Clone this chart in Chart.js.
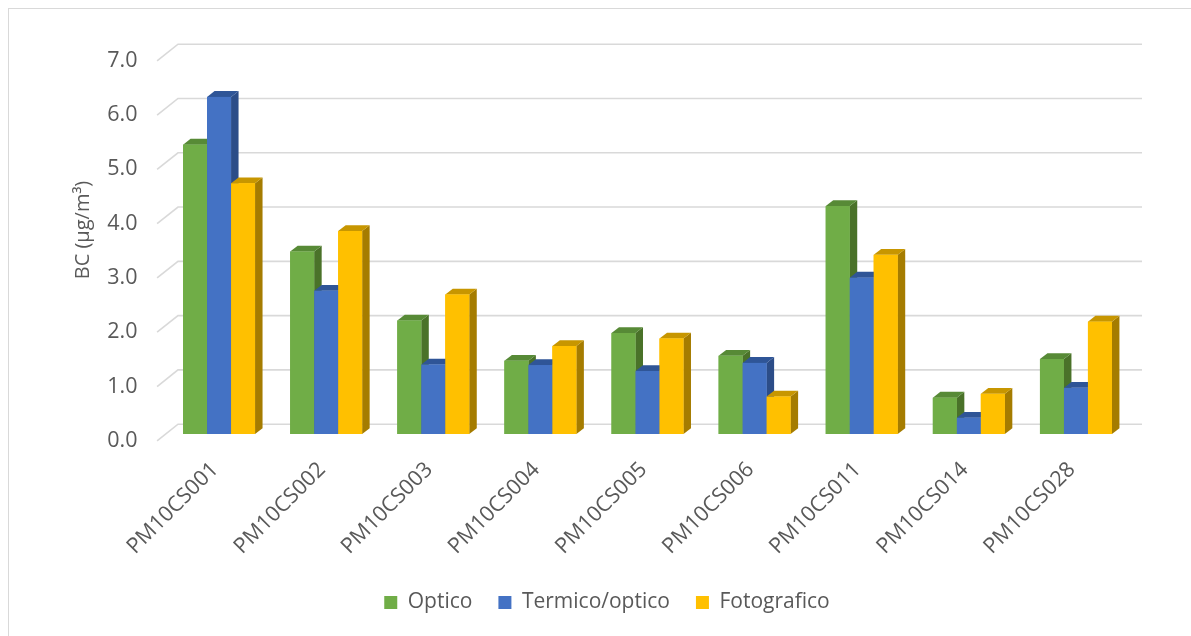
<!DOCTYPE html>
<html>
<head>
<meta charset="utf-8">
<script src="https://cdn.jsdelivr.net/npm/chart.js@4"></script>
<style>
  html, body { margin: 0; padding: 0; background: #fff; }
  #wrap { width: 1191px; height: 636px; }
</style>
</head>
<body>
<div id="wrap"><canvas id="myChart"></canvas></div>
<script>
let labels = ["PM10CS001", "PM10CS002", "PM10CS003", "PM10CS004", "PM10CS005", "PM10CS006", "PM10CS011", "PM10CS014", "PM10CS028"]
let seriesNames = ["Optico", "Termico/optico", "Fotografico"]
let optico = [5.33, 3.36, 2.09, 1.35, 1.86, 1.44, 4.20, 0.67, 1.38]
let termico = [6.21, 2.64, 1.28, 1.27, 1.16, 1.31, 2.88, 0.30, 0.85]
let fotografico = [4.62, 3.74, 2.57, 1.62, 1.76, 0.69, 3.30, 0.74, 2.07]
let yTicks = [0, 1, 2, 3, 4, 5, 6, 7]

let colorFront = ["#70ad47", "#4472c4", "#ffc000"]
let colorTop = ["#578a36", "#2f5597", "#c79600"]
let colorSide = ["#4a7229", "#2c4d88", "#a57c00"]

// 3d look: depth of each bar, and offsets of back wall / front edge
let depthX = 7.5, depthY = 5.8
let backX = 12.5, backY = -9.8
let frontX = -8.4, frontY = 6.8
let font = "'Open Sans', sans-serif"

let frame = {
  id: "frame",
  beforeDraw(chart) {
    let c = chart.ctx
    c.save()
    c.fillStyle = "#fff"
    c.fillRect(0, 0, chart.width, chart.height)
    c.strokeStyle = "#d9d9d9"
    c.lineWidth = 1
    c.strokeRect(8.5, 8.5, 1400, 800)
    // axis title
    c.fillStyle = "#595959"
    c.font = "20px " + font
    c.textAlign = "center"
    c.textBaseline = "middle"
    c.translate(83, 230)
    c.rotate(-Math.PI / 2)
    c.fillText("BC (\u00b5g/m\u00b3)", 0, 0)
    c.restore()
  }
}

let wall = {
  id: "wall",
  beforeDatasetsDraw(chart) {
    let c = chart.ctx, y = chart.scales.y, a = chart.chartArea
    c.save()
    c.strokeStyle = "#d9d9d9"
    c.lineWidth = 1.6
    yTicks.forEach(v => {
      let py = y.getPixelForValue(v)
      c.beginPath()
      c.moveTo(a.left + frontX, py + frontY)
      c.lineTo(a.left + backX, py + backY)
      c.lineTo(a.right + backX, py + backY)
      c.stroke()
    })
    c.restore()
  }
}

let bars3d = {
  id: "bars3d",
  afterDatasetsDraw(chart) {
    let c = chart.ctx
    c.save()
    chart.data.datasets.forEach((ds, i) => {
      chart.getDatasetMeta(i).data.forEach(el => {
        let p = el.getProps(["x", "y", "base", "width"], true)
        let x0 = p.x - p.width / 2, x1 = p.x + p.width / 2
        // side
        c.fillStyle = colorSide[i]
        c.beginPath()
        c.moveTo(x1, p.y)
        c.lineTo(x1 + depthX, p.y - depthY)
        c.lineTo(x1 + depthX, p.base - depthY)
        c.lineTo(x1, p.base)
        c.closePath()
        c.fill()
        // top
        c.fillStyle = colorTop[i]
        c.beginPath()
        c.moveTo(x0, p.y)
        c.lineTo(x0 + depthX, p.y - depthY)
        c.lineTo(x1 + depthX, p.y - depthY)
        c.lineTo(x1, p.y)
        c.closePath()
        c.fill()
        // front
        c.fillStyle = colorFront[i]
        c.fillRect(x0, p.y, p.width, p.base - p.y)
      })
    })
    c.restore()
  }
}

let ctx = document.getElementById("myChart").getContext("2d")

let myChart = new Chart(ctx, {
  type: "bar",
  data: {
    labels: labels,
    datasets: [
      { label: seriesNames[0], data: optico, backgroundColor: colorFront[0] },
      { label: seriesNames[1], data: termico, backgroundColor: colorFront[1] },
      { label: seriesNames[2], data: fotografico, backgroundColor: colorFront[2] }
    ]
  },
  options: {
    responsive: true,
    maintainAspectRatio: false,
    animation: false,
    datasets: { bar: { categoryPercentage: 0.672, barPercentage: 1 } },
    layout: { padding: { left: 84.5, top: 54, right: 61.5, bottom: 13 } },
    scales: {
      x: {
        grid: { display: false },
        border: { display: false },
        ticks: {
          color: "#595959",
          font: { family: font, size: 21.5 },
          minRotation: 45,
          maxRotation: 45,
          padding: 15,
          labelOffset: -4
        },
        afterFit(s) { s.height = 132 }
      },
      y: {
        min: 0,
        max: 7,
        grid: { display: false },
        border: { display: false },
        ticks: {
          stepSize: 1,
          color: "#595959",
          font: { family: font, size: 21.5 },
          padding: 20,
          labelOffset: 6.8,
          callback: v => v.toFixed(1)
        },
        afterFit(s) { s.width = 81 }
      }
    },
    plugins: {
      legend: {
        position: "bottom",
        labels: {
          color: "#595959",
          font: { family: font, size: 21 },
          boxWidth: 13,
          boxHeight: 13,
          padding: 26
        }
      },
      tooltip: { enabled: false }
    }
  },
  plugins: [frame, wall, bars3d]
})
</script>
</body>
</html>
